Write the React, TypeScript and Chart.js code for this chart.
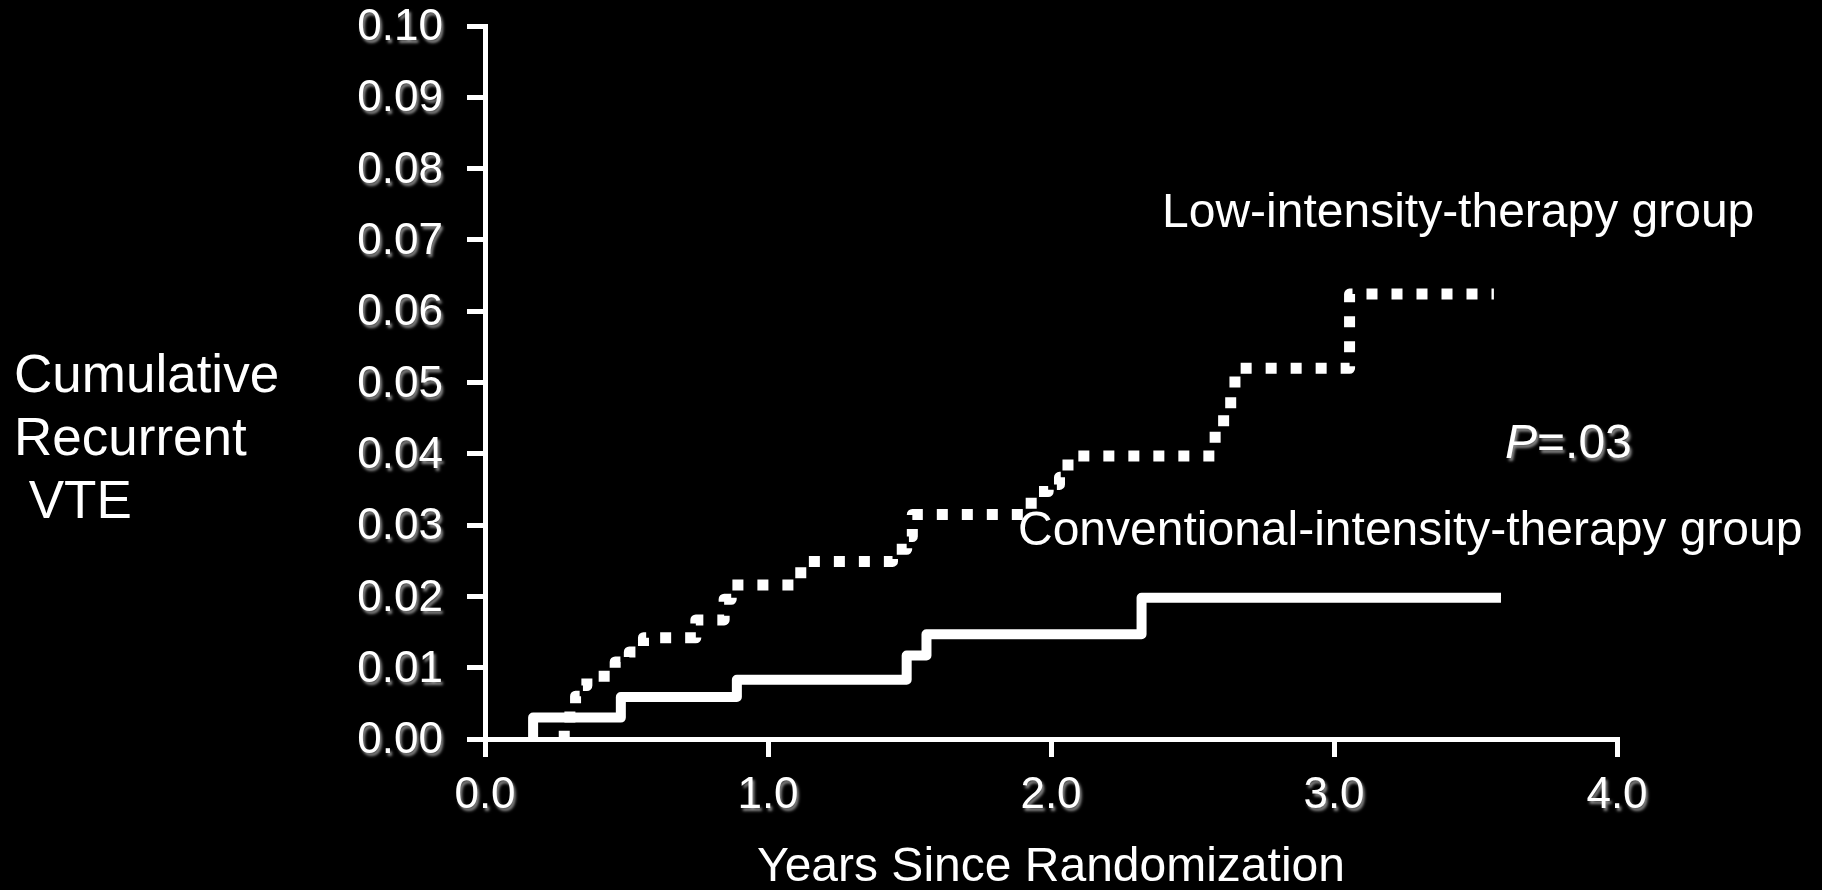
import React, { useEffect, useRef } from 'react';
import { Chart, registerables } from 'chart.js';

Chart.register(...registerables);

const FONT = '"Liberation Sans", Arial, Helvetica, sans-serif';

// Conventional-intensity-therapy group (solid line), Kaplan-Meier steps
const conventionalYears = [0.17, 0.17, 0.48, 0.89, 1.49, 1.56, 2.32, 3.59];
const conventionalRisk = [0, 0.003, 0.0059, 0.0083, 0.0117, 0.0147, 0.0198, 0.0198];

// Low-intensity-therapy group (dotted line), Kaplan-Meier steps
const lowYears = [
  0.27, 0.28, 0.3, 0.32, 0.34, 0.36, 0.46, 0.51, 0.56, 0.745, 0.845, 0.87,
  1.09, 1.14, 1.44, 1.49, 1.51, 1.93, 1.99, 2.03, 2.06, 2.58, 2.61, 2.635,
  2.65, 3.055, 3.565,
];
const lowRisk = [
  0, 0.002, 0.004, 0.006, 0.0075, 0.0088, 0.0108, 0.0122, 0.0142, 0.0167, 0.0196, 0.0216,
  0.0233, 0.0249, 0.0266, 0.0284, 0.0315, 0.0347, 0.0357, 0.0367, 0.0397, 0.0437, 0.0458, 0.0481,
  0.052, 0.0624, 0.0624,
];

const yTitleLines = ['Cumulative', 'Recurrent', ' VTE'];
const xTitle = 'Years Since Randomization';
const lowLabel = 'Low-intensity-therapy group';
const convLabel = 'Conventional-intensity-therapy group';
const pLetter = 'P';
const pValue = '=.03';

const X_MIN = 0;
const X_MAX = 4;
const X_STEP = 1;
const Y_MIN = 0;
const Y_MAX = 0.1;
const Y_STEP = 0.01;

const shadowPlugin = {
  id: 'labelShadow',
  beforeDraw(chart: any) {
    const ctx = chart.ctx;
    Object.values(chart.scales).forEach((s: any) => {
      if (s.__shadowWrapped) return;
      const orig = s.drawLabels.bind(s);
      s.drawLabels = (area: any) => {
        ctx.save();
        ctx.shadowColor = 'rgba(140,140,140,1)';
        ctx.shadowOffsetX = 2;
        ctx.shadowOffsetY = 3;
        ctx.shadowBlur = 3;
        orig(area);
        ctx.restore();
      };
      s.__shadowWrapped = true;
    });
  },
};

const annotationPlugin = {
  id: 'annotations',
  afterDraw(chart: any) {
    const ctx = chart.ctx;
    ctx.save();
    ctx.fillStyle = '#ffffff';
    ctx.textAlign = 'left';
    ctx.textBaseline = 'alphabetic';
    ctx.font = `53px ${FONT}`;
    yTitleLines.forEach((t, i) => ctx.fillText(t, 14, 392 + i * 63));
    ctx.font = `48px ${FONT}`;
    ctx.fillText(lowLabel, 1162, 227);
    ctx.fillText(convLabel, 1018, 545);
    ctx.shadowColor = 'rgba(140,140,140,1)';
    ctx.shadowOffsetX = 2;
    ctx.shadowOffsetY = 3;
    ctx.shadowBlur = 3;
    ctx.font = `italic 48px ${FONT}`;
    ctx.fillText(pLetter, 1505, 458);
    const w = ctx.measureText(pLetter).width;
    ctx.font = `48px ${FONT}`;
    ctx.fillText(pValue, 1505 + w, 458);
    ctx.restore();
  },
};

export default function App() {
  const ref = useRef<HTMLCanvasElement | null>(null);

  useEffect(() => {
    if (!ref.current) return;
    const axisCommon = {
      border: { display: true, color: '#ffffff', width: 5 },
      grid: {
        display: true,
        drawOnChartArea: false,
        drawTicks: true,
        tickLength: 18,
        tickWidth: 5,
        tickColor: '#ffffff',
        color: '#ffffff',
        lineWidth: 5,
      },
    };
    const chart = new Chart(ref.current, {
      type: 'line',
      data: {
        datasets: [
          {
            label: convLabel,
            data: conventionalYears.map((x, i) => ({ x, y: conventionalRisk[i] })),
            borderColor: '#ffffff',
            borderWidth: 10,
            borderJoinStyle: 'round',
            borderCapStyle: 'butt',
            stepped: 'before',
            pointRadius: 0,
            fill: false,
            clip: 0,
          },
          {
            label: lowLabel,
            data: lowYears.map((x, i) => ({ x, y: lowRisk[i] })),
            borderColor: '#ffffff',
            borderWidth: 11,
            borderDash: [11, 14],
            borderJoinStyle: 'round',
            borderCapStyle: 'butt',
            stepped: 'before',
            pointRadius: 0,
            fill: false,
            clip: 0,
          },
        ],
      },
      options: {
        responsive: false,
        animation: false,
        events: [],
        layout: { padding: { left: 0, top: 26, right: 205, bottom: 0 } },
        plugins: {
          legend: { display: false },
          tooltip: { enabled: false },
        },
        scales: {
          x: {
            type: 'linear',
            position: 'bottom',
            min: X_MIN,
            max: X_MAX,
            ...axisCommon,
            ticks: {
              stepSize: X_STEP,
              color: '#ffffff',
              font: { family: FONT, size: 44 },
              padding: 12,
              maxRotation: 0,
              autoSkip: false,
              callback: (v: any) => Number(v).toFixed(1),
            },
            title: {
              display: true,
              text: xTitle,
              color: '#ffffff',
              font: { family: FONT, size: 48, lineHeight: 0.94 },
              padding: 0,
            },
            afterFit: (s: any) => {
              s.height = 151;
              s.paddingLeft = 0;
              s.paddingRight = 0;
            },
          },
          y: {
            type: 'linear',
            position: 'left',
            min: Y_MIN,
            max: Y_MAX,
            ...axisCommon,
            ticks: {
              stepSize: Y_STEP,
              color: '#ffffff',
              font: { family: FONT, size: 44 },
              padding: 24,
              labelOffset: 2,
              autoSkip: false,
              callback: (v: any) => Number(v).toFixed(2),
            },
            afterFit: (s: any) => {
              s.width = 485;
              s.paddingTop = 0;
              s.paddingBottom = 0;
            },
          },
        },
      } as any,
      plugins: [shadowPlugin, annotationPlugin],
    });
    return () => chart.destroy();
  }, []);

  return (
    <div
      style={{
        position: 'fixed',
        left: 0,
        top: 0,
        width: 1822,
        height: 890,
        background: '#000000',
        overflow: 'hidden',
      }}
    >
      <canvas ref={ref} width={1822} height={890} style={{ display: 'block' }} />
    </div>
  );
}
